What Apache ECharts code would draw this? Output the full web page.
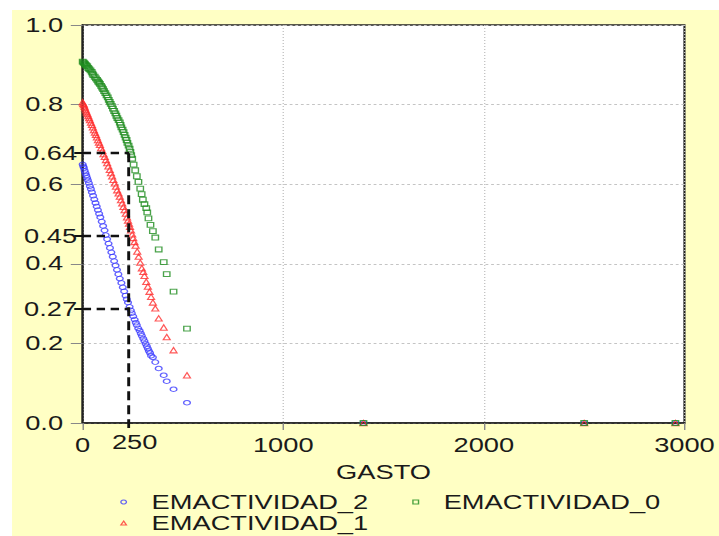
<!DOCTYPE html>
<html>
<head>
<meta charset="utf-8">
<script src="https://cdn.jsdelivr.net/npm/echarts@6/dist/echarts.min.js"></script>
<style>
html,body{margin:0;padding:0;background:#fff;overflow:hidden;width:719px;height:536px;}
#c{width:514px;height:536px;transform:scaleX(1.39883);transform-origin:0 0;}
</style>
</head>
<body>
<div id="c"></div>
<script>
// ---- data ----
const xTicks = [0, 1000, 2000, 3000];
const yTicks = [0, 0.2, 0.4, 0.6, 0.8, 1.0];

const emact2 = [ // blue circles
[0,0.650],[3,0.645],[6,0.641],[10,0.634],[14,0.628],[18,0.622],[22,0.616],[26,0.610],[31,0.603],[36,0.595],
[41,0.588],[46,0.580],[52,0.571],[58,0.562],[64,0.553],[70,0.544],[76,0.535],[82,0.526],[88,0.517],[95,0.506],
[102,0.495],[109,0.484],[115,0.472],[122,0.462],[129,0.451],[136,0.440],[143,0.429],[150,0.418],[157,0.407],[164,0.396],
[171,0.385],[178,0.374],[185,0.363],[193,0.352],[200,0.341],[207,0.331],[214,0.320],[220,0.311],[226,0.303],[234,0.292],
[240,0.283],[245,0.276],[252,0.268],[259,0.260],[265,0.252],[270,0.246],[277,0.238],[284,0.232],[290,0.225],[295,0.219],
[302,0.212],[308,0.206],[314,0.199],[320,0.193],[325,0.187],[330,0.181],[336,0.176],[341,0.169],[350,0.165],[362,0.153],
[379,0.137],[404,0.120],[419,0.105],[453,0.085],[520,0.051],
[1400,0],[2500,0],[2955,0]
];
const emact1 = [ // red triangles
[0,0.806],[3,0.802],[6,0.799],[9,0.795],[12,0.791],[16,0.786],[20,0.781],[24,0.776],[28,0.771],[32,0.766],
[36,0.761],[41,0.755],[46,0.749],[51,0.743],[56,0.736],[61,0.730],[66,0.724],[71,0.718],[76,0.711],[81,0.705],
[86,0.699],[92,0.691],[98,0.684],[104,0.676],[110,0.669],[116,0.661],[122,0.653],[128,0.645],[135,0.636],[141,0.628],
[147,0.620],[153,0.611],[160,0.602],[166,0.594],[172,0.585],[179,0.577],[185,0.569],[191,0.560],[197,0.552],[203,0.543],
[209,0.535],[215,0.526],[221,0.517],[226,0.509],[231,0.501],[236,0.493],[241,0.484],[247,0.474],[252,0.465],[258,0.455],
[264,0.446],[272,0.431],[279,0.418],[287,0.403],[295,0.389],[302,0.380],[308,0.370],[317,0.355],[325,0.343],[333,0.330],
[341,0.317],[350,0.303],[362,0.288],[379,0.263],[404,0.240],[419,0.216],[453,0.183],[520,0.120],
[1400,0],[2500,0],[2955,0]
];
const emact0 = [ // green squares
[0,0.908],[4,0.906],[8,0.904],[11,0.902],[15,0.900],[19,0.898],[23,0.896],[28,0.892],[33,0.889],[39,0.886],
[45,0.882],[49,0.878],[53,0.874],[60,0.870],[66,0.866],[72,0.862],[77,0.858],[82,0.855],[86,0.852],[92,0.847],
[97,0.843],[102,0.839],[107,0.834],[113,0.829],[119,0.823],[125,0.818],[130,0.812],[135,0.807],[140,0.802],[146,0.796],
[151,0.790],[157,0.784],[163,0.778],[168,0.772],[173,0.766],[179,0.761],[185,0.755],[189,0.749],[193,0.743],[199,0.737],
[204,0.731],[209,0.724],[214,0.717],[219,0.711],[223,0.704],[229,0.697],[234,0.689],[238,0.681],[242,0.673],[247,0.664],
[254,0.649],[262,0.635],[270,0.620],[278,0.606],[287,0.589],[294,0.575],[300,0.561],[308,0.550],[317,0.540],[322,0.529],
[328,0.514],[338,0.498],[350,0.482],[362,0.466],[379,0.436],[404,0.404],[419,0.374],[453,0.330],[520,0.237],
[1400,0],[2500,0],[2955,0]
];

// reference (dashed) guides: positions as drawn, labels as printed
const refY = [0.678, 0.470, 0.286];
const refYLabels = ['0.64', '0.45', '0.27'];
const refX = 231;
const refXLabel = '250';

// ---- chart ----
const FONT = "'Liberation Sans', Arial, sans-serif";
const txt = {color:'#1a1a1a', fontSize:19.5, fontFamily:FONT};
const BLUE = '#3a3aff', RED = '#ff2e2e', GREEN = '#1e8c1e';
const chart = echarts.init(document.getElementById('c'), null, {renderer:'svg'});

const hDash = {color:'#111', width:2.4, type:[6,4]};
const vDash = {color:'#111', width:2.1, type:[9,5]};
const legItem = (name, icon, col) => ({name, icon,
  itemStyle:{color:'rgba(0,0,0,0)', borderColor:col, borderWidth:1}});
const legText = Object.assign({lineHeight:21, padding:[0,0,0,13]}, txt);

chart.setOption({
  animation:false,
  backgroundColor:'#fff',
  graphic:{elements:[{type:'rect', z:-10, silent:true, left:8.6, top:10,
    shape:{width:520, height:530}, style:{fill:'#FFFFC4'}}]},
  grid:{left:59.1, right:21.4, top:25, bottom:113, show:true,
    backgroundColor:'#fff', borderColor:'#222', borderWidth:1.5},
  legend:[
    {data:[legItem('EMACTIVIDAD_2','circle',BLUE), legItem('EMACTIVIDAD_1','triangle',RED)],
     orient:'vertical', left:85.9, top:491.5, padding:0,
     itemWidth:4, itemHeight:4, itemGap:0, textStyle:legText},
    {data:[legItem('EMACTIVIDAD_0','rect',GREEN)],
     orient:'vertical', left:294.7, top:491.5, padding:0,
     itemWidth:4, itemHeight:4, itemGap:0, textStyle:legText}
  ],
  xAxis:[
    {type:'value', min:xTicks[0], max:xTicks[xTicks.length-1], interval:xTicks[1]-xTicks[0],
     axisLine:{show:true, onZero:false, lineStyle:{color:'#222', width:1.5}},
     axisTick:{show:true, length:7, lineStyle:{color:'#888', width:1}},
     axisLabel:Object.assign({margin:12, formatter:v=>String(v)}, txt),
     splitLine:{show:true, lineStyle:{type:[1,2], color:'#c4c4c4', width:1}},
     name:'GASTO', nameLocation:'middle', nameGap:39, nameTextStyle:txt},
    {type:'value', min:xTicks[0], max:xTicks[xTicks.length-1], position:'bottom',
     axisLine:{show:false}, splitLine:{show:false},
     axisTick:{show:true, customValues:[refX], length:5, lineStyle:{color:'#111', width:2}},
     axisLabel:Object.assign({customValues:[refX], margin:9, padding:[0,0,0,8], formatter:()=>refXLabel}, txt)}
  ],
  yAxis:[
    {type:'value', min:yTicks[0], max:yTicks[yTicks.length-1], interval:yTicks[1]-yTicks[0],
     axisLine:{show:true, lineStyle:{color:'#222', width:1.5}},
     axisTick:{show:true, length:8.5, lineStyle:{color:'#888', width:1}},
     axisLabel:Object.assign({margin:14, formatter:v=>v.toFixed(1)}, txt),
     splitLine:{show:true, lineStyle:{type:[2,2], color:'#c4c4c4', width:1}}},
    {type:'value', min:yTicks[0], max:yTicks[yTicks.length-1], position:'left', offset:0,
     axisLine:{show:false}, splitLine:{show:false},
     axisTick:{show:true, customValues:refY, length:6, lineStyle:{color:'#111', width:2}},
     axisLabel:Object.assign({customValues:refY, margin:4,
       formatter:v=>{const i=refY.findIndex(r=>Math.abs(r-v)<1e-6); return i>=0?refYLabels[i]:'';}}, txt)}
  ],
  series:[
    {name:'EMACTIVIDAD_2', type:'scatter', data:emact2, symbol:'circle', symbolSize:[4.8,4.5],
     itemStyle:{color:'rgba(0,0,0,0)', borderColor:BLUE, borderWidth:1}},
    {name:'EMACTIVIDAD_1', type:'scatter', data:emact1, symbol:'triangle', symbolSize:[5,5.4],
     itemStyle:{color:'rgba(0,0,0,0)', borderColor:RED, borderWidth:1}},
    {name:'EMACTIVIDAD_0', type:'scatter', data:emact0, symbol:'rect', symbolSize:[4.6,4.8],
     itemStyle:{color:'rgba(0,0,0,0)', borderColor:GREEN, borderWidth:1}},
    {name:'guides', type:'line', data:[], silent:true,
     markLine:{silent:true, symbol:['none','none'], label:{show:false}, animation:false,
       data:[
         [{coord:[0,refY[0]], lineStyle:hDash},{coord:[refX,refY[0]]}],
         [{coord:[0,refY[1]], lineStyle:hDash},{coord:[refX,refY[1]]}],
         [{coord:[0,refY[2]], lineStyle:hDash},{coord:[refX,refY[2]]}],
         [{coord:[refX,refY[0]], lineStyle:vDash},{coord:[refX,0]}]
       ]}}
  ]
});
</script>
</body>
</html>
